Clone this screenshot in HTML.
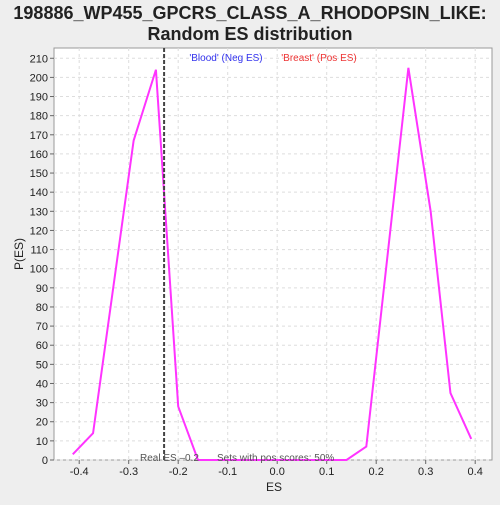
<!DOCTYPE html>
<html><head><style>
body{margin:0;background:#eeeeee;font-family:"Liberation Sans",sans-serif;overflow:hidden;}
</style></head><body>
<svg width="500" height="500" xmlns="http://www.w3.org/2000/svg">
<rect width="500" height="500" fill="#eeeeee"/>
<text x="250" y="19" text-anchor="middle" font-size="18" font-weight="bold" fill="#222">198886_WP455_GPCRS_CLASS_A_RHODOPSIN_LIKE:</text>
<text x="250" y="40" text-anchor="middle" font-size="18" font-weight="bold" fill="#222">Random ES distribution</text>
<rect x="54" y="48" width="438" height="412" fill="#ffffff" stroke="#999"/>
<g id="grid"></g>
<g id="axes"></g>
<g id="marks"></g>
<text x="226" y="61" text-anchor="middle" font-size="10" fill="#3333ee">'Blood' (Neg ES)</text>
<text x="319" y="61" text-anchor="middle" font-size="10" fill="#ee3333">'Breast' (Pos ES)</text>
<text x="140" y="461" font-size="10" fill="#555">Real ES –0.2</text>
<text x="217" y="461" font-size="10" fill="#555">Sets with pos scores: 50%</text>
<text x="274" y="491" text-anchor="middle" font-size="12" fill="#222">ES</text>
<text x="23" y="254" text-anchor="middle" font-size="12" fill="#222" transform="rotate(-90 23 254)">P(ES)</text>
</svg>
<script>
const esValues=[-0.413,-0.372,-0.29,-0.245,-0.2,-0.16,0.14,0.18,0.265,0.31,0.35,0.392];
const probValues=[3,14,167,204,28,0,0,7,205,130,35,11];
const xTicks=[-0.4,-0.3,-0.2,-0.1,0.0,0.1,0.2,0.3,0.4];
const xTickLabels=["-0.4","-0.3","-0.2","-0.1","0.0","0.1","0.2","0.3","0.4"];
const yTicks=[0,10,20,30,40,50,60,70,80,90,100,110,120,130,140,150,160,170,180,190,200,210];
const realES=-0.2285;
const NS="http://www.w3.org/2000/svg";
const X=v=>277.2+v*495;
const Y=v=>460-v*1.913;
function mk(t,a,p){const e=document.createElementNS(NS,t);for(const k in a)e.setAttribute(k,a[k]);p.appendChild(e);return e;}
const grid=document.getElementById('grid'),axes=document.getElementById('axes'),marks=document.getElementById('marks');
xTicks.forEach((t,i)=>{
 const g=mk('line',{x1:X(t),x2:X(t),y1:48,y2:460,stroke:'#ddd','stroke-dasharray':'3,3'},grid);
 
 
 const tk=mk('line',{x1:X(t),x2:X(t),y1:460,y2:464,stroke:'#666'},axes);
 
 
 const l=mk('text',{x:X(t),y:475,'text-anchor':'middle','font-size':'11',fill:'#222'},axes);
 l.textContent=xTickLabels[i];
 
 
});
yTicks.forEach(t=>{
 const g=mk('line',{x1:54,x2:492,y1:Y(t),y2:Y(t),stroke:'#ddd','stroke-dasharray':'3,3'},grid);
 
 
 const tk=mk('line',{x1:50,x2:54,y1:Y(t),y2:Y(t),stroke:'#666'},axes);
 
 
 const l=mk('text',{x:48,y:Y(t)+4,'text-anchor':'end','font-size':'11',fill:'#222'},axes);
 l.textContent=String(t);
 
 
});
const pts=esValues.map((v,i)=>X(v)+','+Y(probValues[i])).join(' ');
const pl=mk('polyline',{points:pts,fill:'none',stroke:'#ff33ff','stroke-width':'2'},marks);


const rl=mk('line',{x1:X(realES),x2:X(realES),y1:48,y2:460,stroke:'#444','stroke-width':'2','stroke-dasharray':'4,2'},marks);


</script>
</body></html>
